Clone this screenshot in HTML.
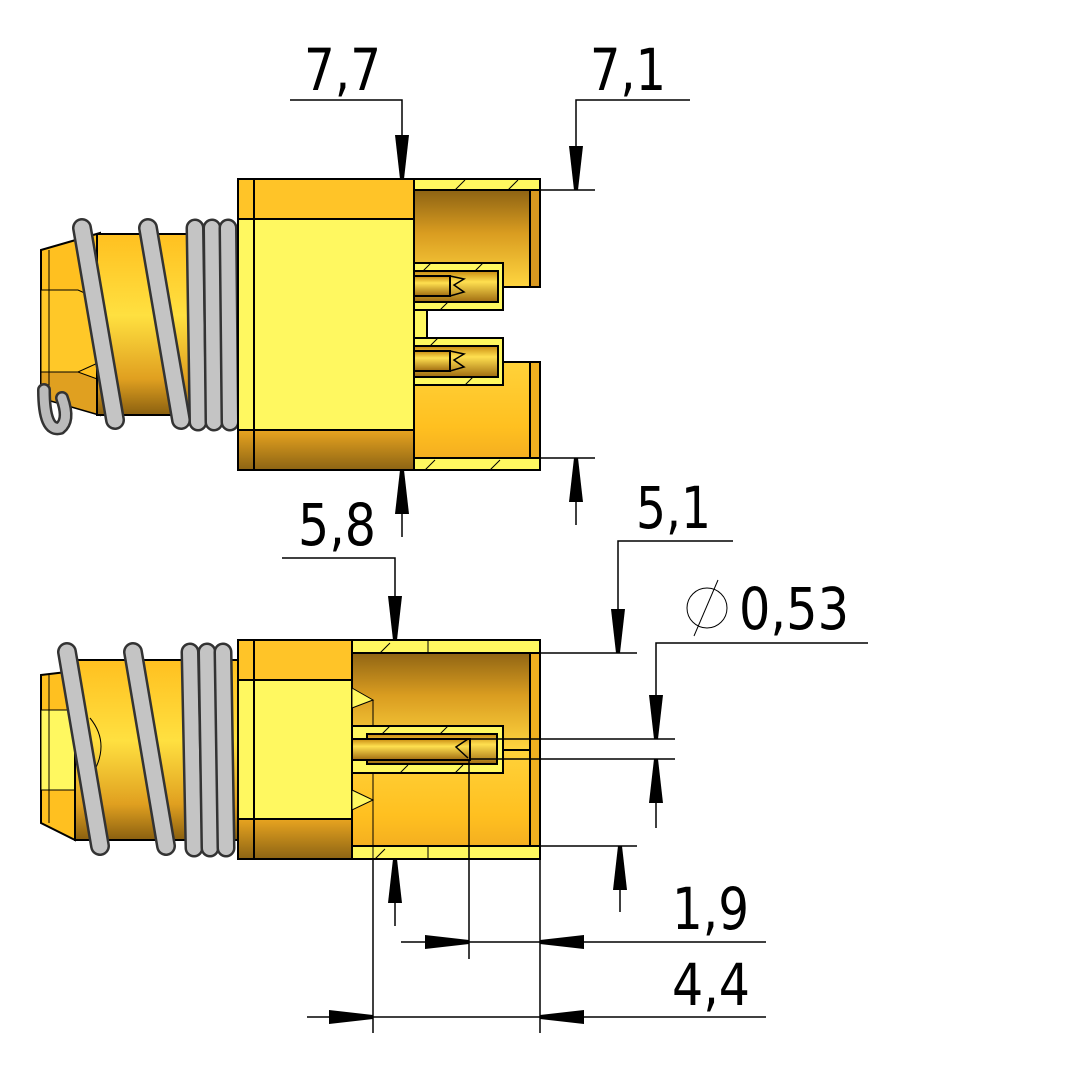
<!DOCTYPE html>
<html><head><meta charset="utf-8"><style>html,body{margin:0;padding:0;background:#fff}svg{display:block}text{font-family:"DejaVu Sans","Liberation Sans",sans-serif;font-size:58px;fill:#000}</style></head>
<body>
<svg width="1082" height="1083" viewBox="0 0 1082 1083" xmlns="http://www.w3.org/2000/svg">
<defs>
<linearGradient id="cav" x1="0" y1="0" x2="0" y2="1"><stop offset="0" stop-color="#7a5410"/><stop offset="0.5" stop-color="#d99c20"/><stop offset="1" stop-color="#ffd640"/></linearGradient>
<linearGradient id="cav2" x1="0" y1="0" x2="0" y2="1"><stop offset="0" stop-color="#ffd23a"/><stop offset="0.6" stop-color="#ffc020"/><stop offset="1" stop-color="#f0a820"/></linearGradient>
<linearGradient id="cyl" x1="0" y1="0" x2="0" y2="1"><stop offset="0" stop-color="#ffc020"/><stop offset="0.45" stop-color="#ffe040"/><stop offset="0.8" stop-color="#e0a020"/><stop offset="1" stop-color="#8a6010"/></linearGradient>
<linearGradient id="pin" x1="0" y1="0" x2="0" y2="1"><stop offset="0" stop-color="#c88a10"/><stop offset="0.35" stop-color="#ffe050"/><stop offset="1" stop-color="#a06c10"/></linearGradient>
<linearGradient id="band" x1="0" y1="0" x2="0" y2="1"><stop offset="0" stop-color="#e8a420"/><stop offset="1" stop-color="#8c6414"/></linearGradient>
<g id="arr"><polygon points="-2,0 2,0 7,-44 -7,-44" fill="#000"/></g>
</defs>

<!-- ============ TOP VIEW ============ -->
<g stroke="#000" stroke-width="2">
<polygon points="41,250 100,233 100,415 41,398" fill="#ffc020"/>
<polygon points="41,290 78,290 100,300 100,362 78,372 41,372" fill="#ffc828" stroke-width="1"/>
<polygon points="41,372 78,372 100,380 100,415 41,398" fill="#e0a020" stroke-width="1"/>
<line x1="49" y1="250" x2="49" y2="398" stroke-width="1"/>
<rect x="97" y="234" width="141" height="181" fill="url(#cyl)"/>
<g stroke-linecap="round" fill="none">
<path d="M44 390 Q44 432 60 428 Q70 420 62 398" stroke="#333" stroke-width="14"/><path d="M44 390 Q44 432 60 428 Q70 420 62 398" stroke="#bbb" stroke-width="9"/>
<path d="M82 228 L115 420" stroke="#333" stroke-width="20"/><path d="M82 228 L115 420" stroke="#c4c4c4" stroke-width="15"/>
<path d="M148 228 L181 420" stroke="#333" stroke-width="20"/><path d="M148 228 L181 420" stroke="#c4c4c4" stroke-width="15"/>
<path d="M195 228 L198 422" stroke="#333" stroke-width="19"/><path d="M195 228 L198 422" stroke="#c4c4c4" stroke-width="14"/>
<path d="M212 228 L214 422" stroke="#333" stroke-width="19"/><path d="M212 228 L214 422" stroke="#c4c4c4" stroke-width="14"/>
<path d="M228 228 L230 422" stroke="#333" stroke-width="19"/><path d="M228 228 L230 422" stroke="#c4c4c4" stroke-width="14"/>
</g>
<rect x="238" y="179" width="176" height="291" fill="#fff860"/>
<rect x="238" y="179" width="176" height="40" fill="#ffc428"/>
<rect x="238" y="430" width="176" height="40" fill="url(#band)"/>
<line x1="254" y1="179" x2="254" y2="470"/>
<rect x="414" y="179" width="126" height="108" fill="url(#cav)"/>
<rect x="414" y="179" width="126" height="11" fill="#fff860"/>
<rect x="530" y="190" width="10" height="97" fill="#d89820"/>
<rect x="414" y="263" width="89" height="47" fill="#fff860"/>
<rect x="414" y="271" width="84" height="31" fill="url(#pin)"/>
<rect x="414" y="276" width="36" height="20" fill="url(#pin)"/>
<polyline points="450,276 464,279 454,285 464,292 450,296" fill="none" stroke-width="1.5"/>
<rect x="414" y="310" width="13" height="28" fill="#fff860"/>
<rect x="414" y="362" width="126" height="108" fill="url(#cav2)"/>
<rect x="414" y="458" width="126" height="12" fill="#fff860"/>
<rect x="530" y="362" width="10" height="96" fill="#f0b020"/>
<rect x="414" y="338" width="89" height="47" fill="#fff860"/>
<rect x="414" y="346" width="84" height="31" fill="url(#pin)"/>
<rect x="414" y="351" width="36" height="20" fill="url(#pin)"/>
<polyline points="450,351 464,354 454,360 464,367 450,371" fill="none" stroke-width="1.5"/>
<g stroke-width="1"><line x1="455" y1="190" x2="465" y2="180"/><line x1="508" y1="190" x2="518" y2="180"/><line x1="425" y1="470" x2="435" y2="460"/><line x1="490" y1="470" x2="500" y2="460"/>
<line x1="423" y1="271" x2="431" y2="263"/><line x1="475" y1="271" x2="483" y2="263"/><line x1="440" y1="310" x2="448" y2="302"/>
<line x1="430" y1="346" x2="438" y2="338"/><line x1="465" y1="385" x2="473" y2="377"/></g>
</g>

<!-- ============ BOTTOM VIEW ============ -->
<g stroke="#000" stroke-width="2">
<polygon points="41,675 75,671 75,840 41,823" fill="#ffc020"/>
<rect x="41" y="710" width="34" height="80" fill="#fff860" stroke-width="1"/>
<line x1="49" y1="675" x2="49" y2="823" stroke-width="1"/>
<rect x="75" y="660" width="163" height="180" fill="url(#cyl)"/>
<path d="M90 718 Q112 745 90 778" fill="none" stroke-width="1"/>
<g stroke-linecap="round" fill="none">
<path d="M67 652 L100 846" stroke="#333" stroke-width="20"/><path d="M67 652 L100 846" stroke="#c4c4c4" stroke-width="15"/>
<path d="M133 652 L166 846" stroke="#333" stroke-width="20"/><path d="M133 652 L166 846" stroke="#c4c4c4" stroke-width="15"/>
<path d="M190 652 L194 848" stroke="#333" stroke-width="19"/><path d="M190 652 L194 848" stroke="#c4c4c4" stroke-width="14"/>
<path d="M207 652 L210 848" stroke="#333" stroke-width="19"/><path d="M207 652 L210 848" stroke="#c4c4c4" stroke-width="14"/>
<path d="M223 652 L226 848" stroke="#333" stroke-width="19"/><path d="M223 652 L226 848" stroke="#c4c4c4" stroke-width="14"/>
</g>
<rect x="238" y="640" width="114" height="219" fill="#fff860"/>
<rect x="238" y="640" width="114" height="40" fill="#ffc428"/>
<rect x="238" y="819" width="114" height="40" fill="url(#band)"/>
<line x1="254" y1="640" x2="254" y2="859"/>
<rect x="352" y="640" width="188" height="110" fill="url(#cav)"/>
<rect x="352" y="750" width="188" height="109" fill="url(#cav2)"/>
<rect x="352" y="640" width="188" height="13" fill="#fff860"/>
<rect x="352" y="846" width="188" height="13" fill="#fff860"/>
<rect x="530" y="653" width="10" height="193" fill="#f0b020"/>
<polygon points="352,688 373,700 352,708" fill="#fff860" stroke-width="1"/>
<polygon points="352,790 373,800 352,810" fill="#fff860" stroke-width="1"/>
<line x1="373" y1="700" x2="373" y2="859" stroke-width="1"/>
<rect x="352" y="726" width="151" height="47" fill="#fff860"/>
<rect x="367" y="734" width="130" height="30" fill="url(#pin)"/>
<rect x="352" y="739" width="118" height="21" fill="url(#pin)"/>
<polyline points="468,739 456,747 468,758" fill="none" stroke-width="1.5"/>
<g stroke-width="1"><line x1="380" y1="653" x2="390" y2="643"/><line x1="428" y1="640" x2="428" y2="653"/><line x1="428" y1="846" x2="428" y2="859"/><line x1="375" y1="859" x2="385" y2="849"/>
<line x1="382" y1="734" x2="390" y2="726"/><line x1="440" y1="734" x2="448" y2="726"/><line x1="400" y1="773" x2="408" y2="765"/><line x1="455" y1="773" x2="463" y2="765"/></g>
</g>

<!-- ============ DIMENSIONS ============ -->
<g stroke="#000" stroke-width="1.5" fill="none">
<polyline points="290,100 402,100 402,179"/>
<polyline points="690,100 576,100 576,190"/>
<line x1="540" y1="190" x2="595" y2="190"/>
<line x1="540" y1="458" x2="595" y2="458"/>
<line x1="576" y1="458" x2="576" y2="525"/>
<line x1="402" y1="470" x2="402" y2="537"/>
<polyline points="282,558 395,558 395,640"/>
<polyline points="733,541 618,541 618,653"/>
<line x1="540" y1="653" x2="637" y2="653"/>
<polyline points="868,643 656,643 656,739"/>
<line x1="470" y1="739" x2="675" y2="739"/>
<line x1="470" y1="759" x2="675" y2="759"/>
<line x1="656" y1="759" x2="656" y2="828"/>
<line x1="540" y1="846" x2="637" y2="846"/>
<line x1="620" y1="846" x2="620" y2="912"/>
<line x1="395" y1="859" x2="395" y2="926"/>
<line x1="469" y1="759" x2="469" y2="959"/>
<line x1="540" y1="859" x2="540" y2="1033"/>
<line x1="373" y1="859" x2="373" y2="1033"/>
<line x1="401" y1="942" x2="766" y2="942"/>
<line x1="307" y1="1017" x2="766" y2="1017"/>
<circle cx="707" cy="608" r="20" stroke-width="1"/>
<line x1="694" y1="636" x2="718" y2="580" stroke-width="1"/>
</g>
<g fill="#000">
<use href="#arr" transform="translate(402,179)"/>
<use href="#arr" transform="translate(576,190)"/>
<use href="#arr" transform="translate(576,458) rotate(180)"/>
<use href="#arr" transform="translate(402,470) rotate(180)"/>
<use href="#arr" transform="translate(395,640)"/>
<use href="#arr" transform="translate(618,653)"/>
<use href="#arr" transform="translate(656,739)"/>
<use href="#arr" transform="translate(656,759) rotate(180)"/>
<use href="#arr" transform="translate(620,846) rotate(180)"/>
<use href="#arr" transform="translate(395,859) rotate(180)"/>
<use href="#arr" transform="translate(469,942) rotate(-90)"/>
<use href="#arr" transform="translate(540,942) rotate(90)"/>
<use href="#arr" transform="translate(373,1017) rotate(-90)"/>
<use href="#arr" transform="translate(540,1017) rotate(90)"/>
</g>
<text x="304" y="90" textLength="77" lengthAdjust="spacingAndGlyphs">7,7</text>
<text x="590" y="90" textLength="76" lengthAdjust="spacingAndGlyphs">7,1</text>
<text x="298" y="545" textLength="78" lengthAdjust="spacingAndGlyphs">5,8</text>
<text x="636" y="528" textLength="75" lengthAdjust="spacingAndGlyphs">5,1</text>
<text x="739" y="629" textLength="110" lengthAdjust="spacingAndGlyphs">0,53</text>
<text x="672" y="929" textLength="77" lengthAdjust="spacingAndGlyphs">1,9</text>
<text x="672" y="1005" textLength="78" lengthAdjust="spacingAndGlyphs">4,4</text>
</svg>
</body></html>
